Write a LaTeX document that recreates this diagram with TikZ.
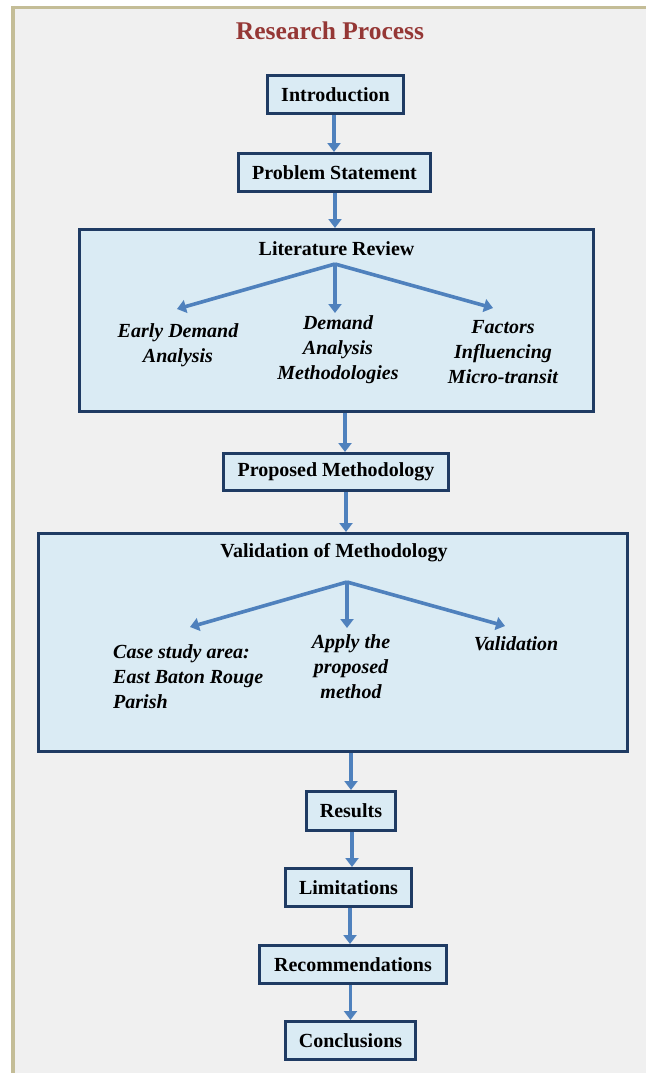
\documentclass[tikz,border=0pt]{standalone}
\usepackage{fontspec}
\setmainfont{Liberation Serif}
\usetikzlibrary{arrows.meta}
\definecolor{bgcol}{HTML}{F0F0F0}
\definecolor{tancol}{HTML}{C4BD97}
\definecolor{titlecol}{RGB}{149,55,53}
\definecolor{boxfill}{HTML}{DAEBF4}
\definecolor{boxline}{HTML}{1F3B63}
\definecolor{arrcol}{HTML}{4F81BD}
\tikzset{
  flowbox/.style={draw=boxline, line width=3pt, fill=boxfill, inner sep=0pt,
    font=\fontsize{20}{25}\selectfont\bfseries, text=black},
  bigbox/.style={draw=boxline, line width=3pt, fill=boxfill, inner sep=0pt},
  boxtitle/.style={inner sep=0pt, font=\fontsize{20}{25}\selectfont\bfseries, text=black},
  subtext/.style={inner sep=0pt, align=center, font=\fontsize{20}{25}\selectfont\bfseries\itshape, text=black},
  flowarrow/.style={draw=arrcol, line width=3.6pt, -{Triangle[length=9pt,width=13pt]}},
}
\begin{document}
\begin{tikzpicture}[x=1pt,y=-1pt]
\useasboundingbox (0,0) rectangle (646,1073);
% page background and border
\fill[white] (0,0) rectangle (646,1073);
\fill[bgcol] (14,9) rectangle (646,1073);
\draw[tancol, line width=3pt] (11,7.5) -- (646,7.5);
\draw[tancol, line width=3.5pt] (12.75,6) -- (12.75,1073);

% title
\node[inner sep=0pt, text=titlecol, font=\fontsize{25.5}{30}\selectfont\bfseries] (title) at (330,31) {Research Process};

% boxes
\node[flowbox, minimum width=136pt, minimum height=38pt] (intro) at (335.5,94.5) {Introduction};
\node[flowbox, minimum width=192pt, minimum height=38pt] (prob) at (334.5,172.5) {Problem Statement};
\node[bigbox, minimum width=514pt, minimum height=182pt] (lit) at (336.5,320.5) {};
\node[boxtitle] (littitle) at (336.5,249) {Literature Review};
\node[flowbox, minimum width=225pt, minimum height=37pt] (pm) at (336,472) {Proposed Methodology};
\node[bigbox, minimum width=589pt, minimum height=218pt] (vm) at (333,642.5) {};
\node[boxtitle] (vmtitle) at (334,553) {Validation of Methodology};
\node[flowbox, minimum width=89pt, minimum height=39pt] (res) at (351,811) {Results};
\node[flowbox, minimum width=126pt, minimum height=38pt] (lim) at (348.5,887.5) {Limitations};
\node[flowbox, minimum width=187pt, minimum height=38pt] (rec) at (353,964.5) {Recommendations};
\node[flowbox, minimum width=130pt, minimum height=38pt] (conc) at (350.5,1040.5) {Conclusions};

% literature review sub-items
\node[subtext] (ed) at (178,345.5) {Early Demand\\Analysis};
\node[subtext] (dam) at (338,349.5) {Demand\\Analysis\\Methodologies};
\node[subtext] (fim) at (503,352) {Factors\\Influencing\\Micro-transit};
\coordinate (lb) at (335,264);
\coordinate (lt1) at (177,309);
\coordinate (lt2) at (335,313);
\coordinate (lt3) at (493,308);
\draw[flowarrow] (lb) -- (lt1);
\draw[flowarrow] (lb) -- (lt2);
\draw[flowarrow] (lb) -- (lt3);

% validation sub-items
\node[subtext, align=left, anchor=west] (cs) at (113,677) {Case study area:\\East Baton Rouge\\Parish};
\node[subtext] (apm) at (351,667) {Apply the\\proposed\\method};
\node[subtext] (val) at (516,644) {Validation};
\coordinate (vb) at (347,582);
\coordinate (vt1) at (190,627);
\coordinate (vt2) at (347,628);
\coordinate (vt3) at (505,626);
\draw[flowarrow] (vb) -- (vt1);
\draw[flowarrow] (vb) -- (vt2);
\draw[flowarrow] (vb) -- (vt3);

% main flow arrows
\draw[flowarrow] ([xshift=-1.5pt]intro.south) -- ([xshift=-1.5pt]intro.south |- prob.north);
\draw[flowarrow] ([xshift=0.5pt]prob.south) -- ([xshift=0.5pt]prob.south |- lit.north);
\draw[flowarrow] ([xshift=8.5pt]lit.south) -- ([xshift=8.5pt]lit.south |- pm.north);
\draw[flowarrow] ([xshift=10pt]pm.south) -- ([xshift=10pt]pm.south |- vm.north);
\draw[flowarrow] (vm.south -| res.north) -- (res.north);
\draw[flowarrow] ([xshift=1pt]res.south) -- ([xshift=1pt]res.south |- lim.north);
\draw[flowarrow] ([xshift=1.5pt]lim.south) -- ([xshift=1.5pt]lim.south |- rec.north);
\draw[flowarrow] (rec.south -| conc.north) -- (conc.north);
\end{tikzpicture}
\end{document}
